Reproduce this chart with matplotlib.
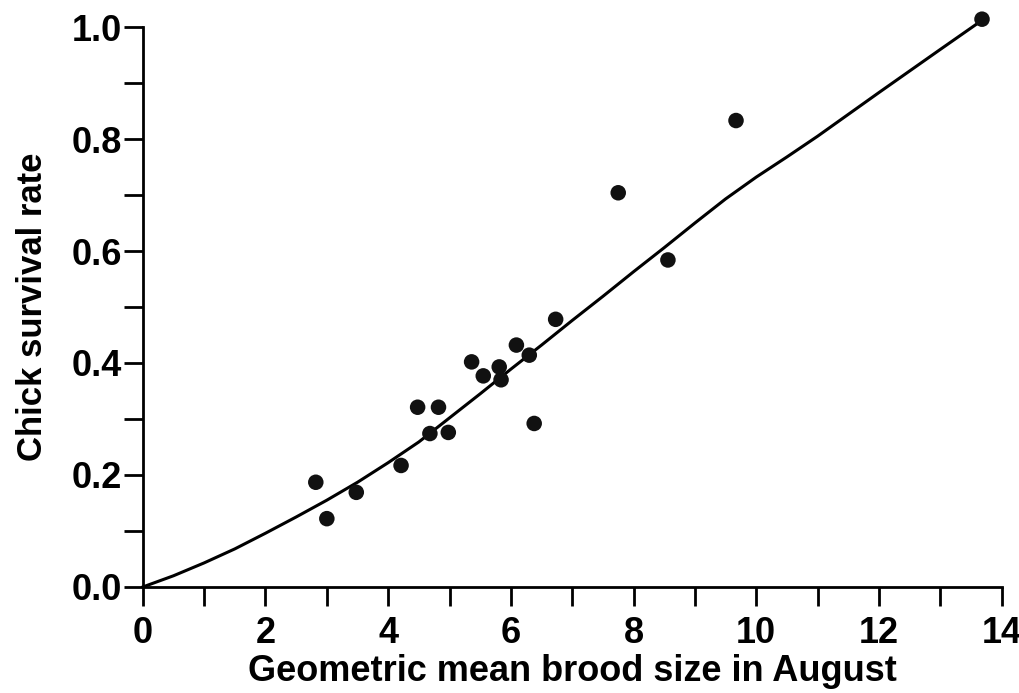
import matplotlib
matplotlib.use("Agg")
import matplotlib.pyplot as plt
from matplotlib.ticker import MultipleLocator

# Observed data points
brood_size = [2.82, 3.00, 3.48, 4.21, 4.48, 4.68, 4.82, 4.98, 5.36, 5.55,
              5.81, 5.84, 6.09, 6.30, 6.38, 6.73, 7.75, 8.56, 9.67, 13.68]
survival = [0.187, 0.122, 0.169, 0.217, 0.321, 0.274, 0.321, 0.276, 0.402, 0.377,
            0.393, 0.370, 0.432, 0.414, 0.292, 0.478, 0.704, 0.584, 0.833, 1.014]

# Fitted curve
curve_x = [0, 0.5, 1, 1.5, 2, 2.5, 3, 3.5, 4, 4.5, 5, 5.5, 6, 6.5, 7, 7.5, 8,
           8.5, 9, 9.5, 10, 10.5, 11, 12, 13, 13.68]
curve_y = [0, 0.020, 0.043, 0.068, 0.096, 0.125, 0.155, 0.187, 0.222, 0.259,
           0.302, 0.345, 0.389, 0.432, 0.476, 0.519, 0.563, 0.606, 0.650, 0.693,
           0.732, 0.768, 0.805, 0.883, 0.960, 1.012]

plt.rcParams['font.family'] = ['Liberation Sans', 'DejaVu Sans']

fig = plt.figure(figsize=(10.2, 6.93), dpi=100)
ax = fig.add_axes([0.140, 0.153, 0.842, 0.808])

ax.plot(curve_x, curve_y, color='black', lw=2.2, clip_on=False, zorder=2,
        solid_joinstyle='round')
ax.scatter(brood_size, survival, s=125, color='#111111', edgecolors='none',
           clip_on=False, zorder=3)

ax.set_xlim(0, 14)
ax.set_ylim(0, 1.0)
ax.xaxis.set_major_locator(MultipleLocator(2))
ax.xaxis.set_minor_locator(MultipleLocator(1))
ax.yaxis.set_major_locator(MultipleLocator(0.2))
ax.yaxis.set_minor_locator(MultipleLocator(0.1))
ax.yaxis.set_major_formatter(plt.FuncFormatter(lambda v, p: f"{v:.1f}"))

for s in ['top', 'right']:
    ax.spines[s].set_visible(False)
for s in ['left', 'bottom']:
    ax.spines[s].set_linewidth(2)

ax.tick_params(which='both', direction='out', length=14, width=2, color='black')
ax.tick_params(axis='y', which='major', labelsize=26, pad=1)
ax.tick_params(axis='x', which='major', labelsize=26, pad=7)
for lab in ax.get_xticklabels() + ax.get_yticklabels():
    lab.set_fontweight('bold')

ax.set_xlabel('Geometric mean brood size in August', fontsize=26,
              fontweight='bold', labelpad=2)
ax.set_ylabel('Chick survival rate', fontsize=25, fontweight='bold', labelpad=16)

fig.savefig('out.png', dpi=100)
